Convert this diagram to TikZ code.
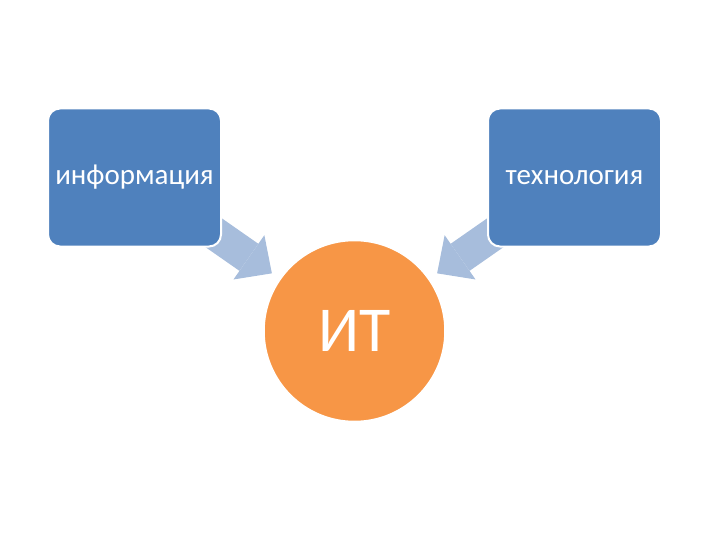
\documentclass[tikz,border=0pt]{standalone}
\usepackage{fontspec}
\setmainfont{Carlito}
\usetikzlibrary{arrows.meta, positioning, backgrounds}
\definecolor{boxblue}{HTML}{4F81BD}
\definecolor{hubor}{HTML}{F79646}
\definecolor{linkblue}{HTML}{A7BDDC}

\begin{document}
\begin{tikzpicture}[x=1pt, y=-1pt,
    node distance=265pt,
    term/.style={draw=white, line width=2pt, fill=boxblue, rounded corners=12pt, text=white, font=\fontsize{29}{34}\selectfont, text width=173pt, align=center, minimum height=138pt, inner sep=0pt},
    hub/.style={circle, draw=white, line width=1.5pt, fill=hubor, text=white, font=\fontsize{64}{70}\selectfont, minimum size=181pt, inner sep=0pt},
    link/.style={line width=33pt, linkblue, -{Triangle[length=28pt, width=54pt, line width=0pt]}, shorten >=9.5pt}]
  \useasboundingbox (0,0) rectangle (720,540);
  \node[term] (info) at (134.5,177.5) {информация};
  \node[term, right=of info] (tech) {технология};
  \node[hub] (it) at (354.5,331) {ИТ};
  \begin{pgfonlayer}{background}
    \draw[link] (info.center) -- (it);
    \draw[link] (tech.center) -- (it);
  \end{pgfonlayer}
\end{tikzpicture}
\end{document}
